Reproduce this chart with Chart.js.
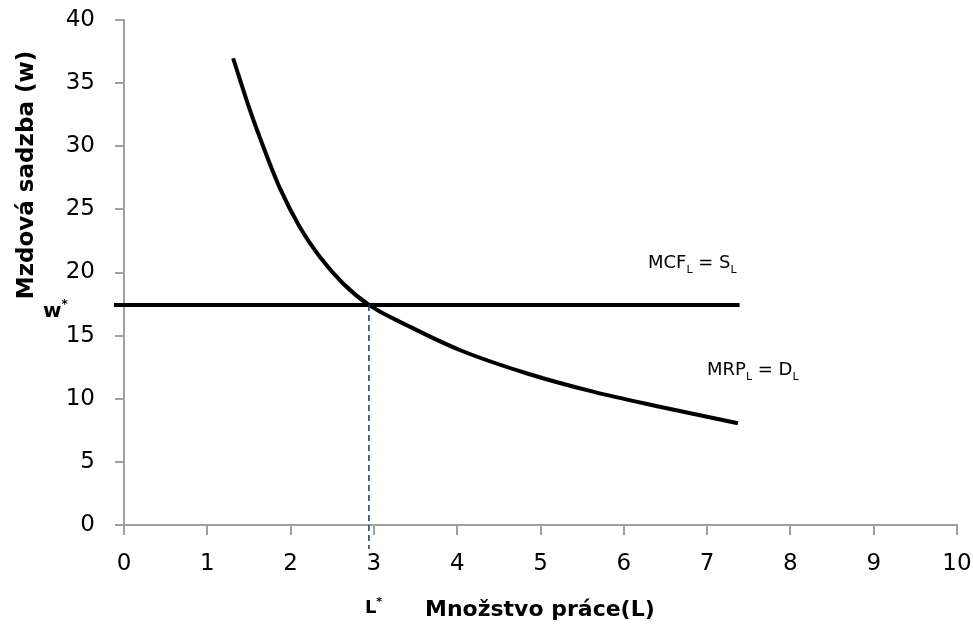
<!DOCTYPE html>
<html>
<head>
<meta charset="utf-8">
<script src="https://cdn.jsdelivr.net/npm/chart.js@4.4.1/dist/chart.umd.min.js"></script>
<style>
  html, body { margin: 0; padding: 0; background: #fff; }
</style>
</head>
<body>
<canvas id="chart_labor" width="973" height="629"></canvas>
<script>
"use strict";

// krivky odčítané z obrázka
var mrpL = [1.31, 1.51, 1.67, 1.87, 2.11, 2.35, 2.63, 2.94, 3.43, 4.03, 4.83, 5.63, 6.43, 7.37];
var mrpW = [36.97, 32.9, 30.0, 26.7, 23.6, 21.25, 19.13, 17.43, 15.71, 13.86, 12.02, 10.56, 9.37, 8.06];

var mcfL = [-0.12, 7.39];
var mcfW = [17.43, 17.43];

var lStarL = [2.94, 2.94];
var lStarW = [17.43, -1.9];

var xTicks = [0, 1, 2, 3, 4, 5, 6, 7, 8, 9, 10];
var yTicks = [0, 5, 10, 15, 20, 25, 30, 35, 40];

var xTitle = "Množstvo práce(L)";
var yTitle = "Mzdová sadzba (w)";

function pts(xs, ys) {
    return xs.map(function (x, i) { return { x: x, y: ys[i] }; });
}

// text s dolným / horným indexom
function rich(c, parts, x, y, size, bold) {
    var w = bold ? 'bold ' : '';
    parts.forEach(function (p) {
        var fs = p.sub || p.sup ? Math.round(size * 0.62) : size;
        c.font = w + fs + 'px "DejaVu Sans"';
        var dy = p.sub ? size * 0.28 : (p.sup ? -size * 0.45 : 0);
        c.fillText(p.t, x, y + dy);
        x += c.measureText(p.t).width;
    });
}

var notes = {
    id: 'notes',
    afterDraw: function (chart) {
        var c = chart.ctx;
        var xs = chart.scales.x, ys = chart.scales.y;
        c.save();
        c.fillStyle = '#000';
        c.textAlign = 'left';
        c.textBaseline = 'alphabetic';

        c.save();
        c.translate(27, 175);
        c.rotate(-Math.PI / 2);
        c.font = 'bold 23px "DejaVu Sans"';
        c.textAlign = 'center';
        c.textBaseline = 'middle';
        c.fillText(yTitle, 0, 0);
        c.restore();

        c.font = 'bold 22px "DejaVu Sans"';
        c.fillText(xTitle, 425, 616);

        var lx = xs.getPixelForValue(lStarL[0]);
        rich(c, [{ t: 'L' }, { t: '*', sup: true }], lx - 4, 613, 18, true);

        var wy = ys.getPixelForValue(mcfW[0]);
        rich(c, [{ t: 'w' }, { t: '*', sup: true }], 43, wy + 12, 20, true);

        rich(c, [{ t: 'MCF' }, { t: 'L', sub: true }, { t: ' = S' }, { t: 'L', sub: true }], 648, 268, 18, false);
        rich(c, [{ t: 'MRP' }, { t: 'L', sub: true }, { t: ' = D' }, { t: 'L', sub: true }], 707, 375, 18, false);
        c.restore();
    }
};

var axisGray = '#a0a0a0';

var ctx = document.getElementById("chart_labor").getContext("2d");
var laborChart = new Chart(ctx, {
    type: 'scatter',
    data: {
        datasets: [
            {
                label: 'L*',
                data: pts(lStarL, lStarW),
                showLine: true,
                borderColor: '#1f3864',
                borderWidth: 1.5,
                borderDash: [6, 4],
                pointRadius: 0,
                clip: false
            },
            {
                label: 'MCF',
                data: pts(mcfL, mcfW),
                showLine: true,
                borderColor: '#000',
                borderWidth: 4,
                pointRadius: 0,
                clip: false
            },
            {
                label: 'MRP',
                data: pts(mrpL, mrpW),
                showLine: true,
                borderColor: '#000',
                borderWidth: 4,
                pointRadius: 0,
                cubicInterpolationMode: 'monotone',
                clip: false
            }
        ]
    },
    options: {
        responsive: false,
        animation: false,
        layout: { padding: { top: 20, right: 16, left: 0, bottom: 0 } },
        plugins: {
            legend: { display: false },
            tooltip: { enabled: false }
        },
        scales: {
            x: {
                type: 'linear',
                min: 0,
                max: 10,
                afterBuildTicks: function (s) { s.ticks = xTicks.map(function (v) { return { value: v }; }); },
                afterFit: function (s) { s.height = 104; s.paddingLeft = 0; s.paddingRight = 0; },
                grid: { drawOnChartArea: false, color: axisGray, lineWidth: 2, tickLength: 10 },
                border: { color: axisGray, width: 2 },
                ticks: {
                    font: { family: 'DejaVu Sans', size: 23 },
                    color: '#000',
                    padding: 15,
                    maxRotation: 0
                }
            },
            y: {
                type: 'linear',
                min: 0,
                max: 40,
                afterBuildTicks: function (s) { s.ticks = yTicks.map(function (v) { return { value: v }; }); },
                afterFit: function (s) { s.width = 124; s.paddingTop = 0; s.paddingBottom = 0; },
                grid: { drawOnChartArea: false, color: axisGray, lineWidth: 2, tickLength: 9 },
                border: { color: axisGray, width: 2 },
                ticks: {
                    font: { family: 'DejaVu Sans', size: 23 },
                    color: '#000',
                    padding: 20
                }
            }
        }
    },
    plugins: [notes]
});
</script>
</body>
</html>
